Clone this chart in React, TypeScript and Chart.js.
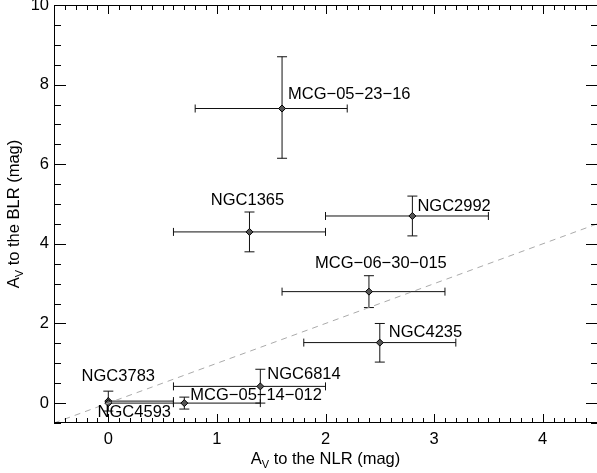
import React, { useEffect, useRef } from "react";
import { Chart, registerables } from "chart.js";
Chart.register(...registerables);

const names = ["MCG−05−23−16", "NGC1365", "NGC2992", "MCG−06−30−015", "NGC4235", "NGC6814", "MCG−05−14−012", "NGC3783", "NGC4593"];
const xVals = [1.6, 1.3, 2.8, 2.4, 2.5, 1.4, 0.7, 0.0, 0.0];
const yVals = [7.4, 4.3, 4.7, 2.8, 1.52, 0.42, 0.0, 0.05, 0.0];
const xLow = [0.8, 0.6, 2.0, 1.6, 1.8, 0.6, 0.6, 0.0, 0.0];
const xHigh = [2.2, 2.0, 3.5, 3.1, 3.2, 2.0, 1.4, 0.6, 0.6];
const yLow = [6.15, 3.8, 4.2, 2.4, 1.03, 0.0, -0.15, -0.2, 0.0];
const yHigh = [8.7, 4.8, 5.2, 3.2, 2.0, 0.85, 0.15, 0.3, 0.0];
const xTicks = [0, 1, 2, 3, 4];
const yTicks = [0, 2, 4, 6, 8, 10];
const oneToOne = [-0.5, 4.5];

// label placement (pixel offsets from the point)
const labelDx = [6, -2, 5, 12, 9, 7, 6, 10, 26];
const labelDy = [-14, -31, -10, -28, -10, -12, -8, -25, 9];
const labelAlign: CanvasTextAlign[] = ["left", "center", "left", "center", "left", "left", "left", "center", "center"];

const FONT = '"Liberation Sans", Arial, Helvetica, sans-serif';
const FS = 16.5;

function drawSubTitle(ctx: CanvasRenderingContext2D, cx: number, cy: number, rest: string) {
  ctx.font = `${FS}px ${FONT}`;
  const wA = ctx.measureText("A").width;
  ctx.font = `11px ${FONT}`;
  const wV = ctx.measureText("V").width;
  ctx.font = `${FS}px ${FONT}`;
  const wR = ctx.measureText(rest).width;
  let x = cx - (wA + wV + wR) / 2;
  ctx.textAlign = "left";
  ctx.textBaseline = "alphabetic";
  ctx.fillText("A", x, cy);
  x += wA;
  ctx.font = `11px ${FONT}`;
  ctx.fillText("V", x, cy + 4);
  x += wV;
  ctx.font = `${FS}px ${FONT}`;
  ctx.fillText(rest, x, cy);
}

const barsPlugin = {
  id: "errBars",
  beforeDatasetsDraw(chart: any) {
    const ctx = chart.ctx as CanvasRenderingContext2D;
    const xs = chart.scales.x;
    const ys = chart.scales.y;
    ctx.save();
    ctx.setLineDash([]);
    ctx.strokeStyle = "#111";
    ctx.lineWidth = 1;
    for (let i = 0; i < xVals.length; i++) {
      const px = xs.getPixelForValue(xVals[i]);
      const py = ys.getPixelForValue(yVals[i]);
      const x0 = xs.getPixelForValue(xLow[i]);
      const x1 = xs.getPixelForValue(xHigh[i]);
      const y0 = ys.getPixelForValue(yLow[i]);
      const y1 = ys.getPixelForValue(yHigh[i]);
      ctx.beginPath();
      if (x1 - x0 > 0.5) {
        ctx.moveTo(x0, py); ctx.lineTo(x1, py);
        ctx.moveTo(x0, py - 4); ctx.lineTo(x0, py + 4);
        ctx.moveTo(x1, py - 4); ctx.lineTo(x1, py + 4);
      }
      if (y0 - y1 > 0.5) {
        ctx.moveTo(px, y0); ctx.lineTo(px, y1);
        if (yLow[i] < yVals[i]) { ctx.moveTo(px - 5, y0); ctx.lineTo(px + 5, y0); }
        if (yHigh[i] > yVals[i]) { ctx.moveTo(px - 5, y1); ctx.lineTo(px + 5, y1); }
      }
      ctx.stroke();
    }
    ctx.restore();
  },
};

const framePlugin = {
  id: "frameTicks",
  afterDraw(chart: any) {
    const ctx = chart.ctx as CanvasRenderingContext2D;
    const xs = chart.scales.x;
    const ys = chart.scales.y;
    const a = chart.chartArea;
    ctx.save();
    ctx.globalAlpha = 1;
    ctx.fillStyle = "#000000";
    const L = Math.round(a.left), R = Math.round(a.right);
    const T = Math.round(a.top), B = Math.round(a.bottom) - 1;
    ctx.fillRect(L, T, R - L + 1, 1);
    ctx.fillRect(L, B, R - L + 1, 1);
    ctx.fillRect(L, T, 1, B - T + 1);
    ctx.fillRect(R, T, 1, B - T + 1);
    for (let k = -5; k <= 45; k++) {
      const px = Math.round(xs.getPixelForValue(k / 10));
      const len = k % 10 === 0 ? 8 : 4;
      ctx.fillRect(px, B - len, 1, len);
      ctx.fillRect(px, T, 1, len + 1);
    }
    for (let k = -1; k <= 20; k++) {
      const py = Math.round(ys.getPixelForValue(k / 2));
      const len = k % 4 === 0 ? 11 : 6;
      ctx.fillRect(L, py, len + 1, 1);
      ctx.fillRect(R - len, py, len, 1);
    }
    ctx.restore();

    ctx.save();
    ctx.fillStyle = "#000";
    ctx.font = `${FS}px ${FONT}`;
    ctx.textBaseline = "middle";
    for (let i = 0; i < names.length; i++) {
      const px = xs.getPixelForValue(xVals[i]);
      const py = ys.getPixelForValue(yVals[i]);
      ctx.textAlign = labelAlign[i];
      ctx.fillText(names[i], px + labelDx[i], py + labelDy[i]);
    }
    drawSubTitle(ctx, (a.left + a.right) / 2, 464, " to the NLR (mag)");
    ctx.translate(19, (a.top + a.bottom) / 2);
    ctx.rotate(-Math.PI / 2);
    drawSubTitle(ctx, 0, 0, " to the BLR (mag)");
    ctx.restore();
  },
};

export default function App() {
  const ref = useRef<HTMLCanvasElement>(null);
  useEffect(() => {
    if (!ref.current) return;
    const chart = new Chart(ref.current, {
      type: "scatter",
      data: {
        datasets: [
          {
            type: "line",
            data: oneToOne.map((v) => ({ x: v, y: v })),
            borderColor: "#aaaaaa",
            borderDash: [6, 5],
            borderWidth: 1,
            pointRadius: 0,
            fill: false,
          } as any,
          {
            data: xVals.map((x, i) => ({ x, y: yVals[i] })),
            pointStyle: "rectRot",
            pointRadius: 3.5,
            backgroundColor: "#555",
            borderColor: "#000",
            borderWidth: 1,
          },
        ],
      },
      options: {
        animation: false,
        responsive: false,
        events: [],
        layout: { autoPadding: false, padding: { top: 5, right: 0, left: 0, bottom: 0 } },
        plugins: { legend: { display: false }, tooltip: { enabled: false } },
        scales: {
          x: {
            type: "linear",
            min: -0.5,
            max: 4.5,
            grid: { display: false, drawTicks: false },
            border: { display: false },
            afterBuildTicks: (s: any) => { s.ticks = xTicks.map((v) => ({ value: v })); },
            afterFit: (s: any) => { s.height = 50; s.paddingLeft = 0; s.paddingRight = 0; },
            ticks: { color: "#000", font: { family: FONT, size: FS }, padding: 7, maxRotation: 0 },
          },
          y: {
            type: "linear",
            min: -0.5,
            max: 10,
            grid: { display: false, drawTicks: false },
            border: { display: false },
            afterBuildTicks: (s: any) => { s.ticks = yTicks.map((v) => ({ value: v })); },
            afterFit: (s: any) => { s.width = 54; s.paddingTop = 0; s.paddingBottom = 0; },
            ticks: { color: "#000", font: { family: FONT, size: FS }, padding: 5 },
          },
        },
      },
      plugins: [barsPlugin, framePlugin],
    });
    return () => chart.destroy();
  }, []);
  return (
    <div style={{ position: "fixed", left: 0, top: 0, width: 597, height: 473, background: "#fff" }}>
      <canvas ref={ref} width={597} height={473} style={{ width: 597, height: 473, display: "block" }} />
    </div>
  );
}
